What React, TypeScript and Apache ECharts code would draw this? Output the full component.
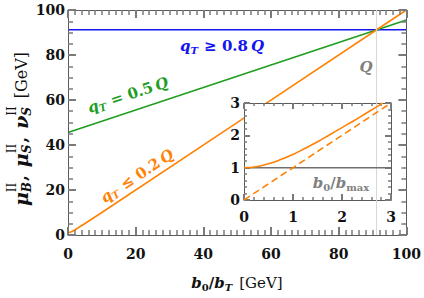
import React, { useEffect, useRef } from "react";
import * as echarts from "echarts";

// ---- data ----
const mainXTicks = [0, 20, 40, 60, 80, 100];
const mainYTicks = [0, 20, 40, 60, 80, 100];
const insetTicks = [0, 1, 2, 3];

const blueX = [0, 100];
const blueY = [91.2, 91.2];
const greenX = [0, 100];
const greenY = [45.6, 95.6];
const orangeX = [0, 1, 2, 3, 5, 10, 100];
const orangeY = [1, 1.4, 2.2, 3.2, 5.1, 10, 100];
const qLineX = [91.19, 91.19];
const qLineY = [0, 100];

const insetSolidX = [0, 0.25, 0.5, 0.75, 1, 1.25, 1.5, 1.75, 2, 2.25, 2.5, 2.75, 2.83];
const insetSolidY = [1, 1.03, 1.12, 1.25, 1.41, 1.6, 1.8, 2.02, 2.24, 2.46, 2.69, 2.92, 3.0];
const insetDashX = [0, 3];
const insetDashY = [0, 3];
const insetGrayX = [0, 3];
const insetGrayY = [1, 1];

const BLUE = "#1414f0";
const GREEN = "#1e9e1e";
const ORANGE = "#ff8205";
const GRAY = "#808080";
const FRAME = "#5a5a5a";
const TICK = "#7a7a7a";
const FAM = "'DejaVu Serif', serif";

const zip = (xs: number[], ys: number[]) => xs.map((x, i) => [x, ys[i]]);

type Piece = { t: string; s?: number; it?: boolean; b?: boolean; dy?: number; stack?: boolean; gap?: number };

let measureCtx: CanvasRenderingContext2D | null = null;
function textW(t: string, s: number, it: boolean, b: boolean) {
  if (!measureCtx) measureCtx = document.createElement("canvas").getContext("2d");
  measureCtx!.font = `${it ? "italic " : ""}${b ? "bold " : ""}${s}px 'DejaVu Serif'`;
  return measureCtx!.measureText(t).width;
}

function mathLabel(pieces: Piece[], cx: number, cy: number, rotation: number, color: string, base = 15) {
  const items: any[] = [];
  let cur = 0;
  let lastX = 0;
  for (const p of pieces) {
    const s = p.s ?? base;
    const it = !!p.it;
    const b = p.b !== false;
    const w = textW(p.t, s, it, b);
    let x: number;
    if (p.stack) {
      x = lastX;
      cur = Math.max(cur, lastX + w);
    } else {
      cur += p.gap ?? 0;
      x = cur;
      cur += w;
    }
    lastX = x;
    items.push({ p, x, s, it, b });
  }
  const total = cur;
  return {
    type: "group",
    x: cx,
    y: cy,
    rotation,
    z: 20,
    children: items.map(({ p, x, s, it, b }) => ({
      type: "text",
      x: x - total / 2,
      y: p.dy ?? 0,
      z: 20,
      style: {
        text: p.t,
        fontSize: s,
        fontFamily: FAM,
        fontWeight: b ? "bold" : "normal",
        fontStyle: it ? "italic" : "normal",
        fill: color,
        align: "left",
        verticalAlign: "middle",
      },
    })),
  };
}

function axisCommon(ticks: number[], minorSplit: number, tickLen: number, minorLen: number, labels: boolean, margin: number) {
  return {
    type: "value",
    min: ticks[0],
    max: ticks[ticks.length - 1],
    interval: ticks[1] - ticks[0],
    axisLine: { show: true, onZero: false, lineStyle: { color: FRAME, width: 1 } },
    axisTick: { show: true, inside: true, length: tickLen, lineStyle: { color: TICK, width: 2 } },
    minorTick: { show: true, splitNumber: minorSplit, length: minorLen, lineStyle: { color: TICK, width: 1.5 } },
    splitLine: { show: false },
    axisLabel: labels
      ? { show: true, margin, fontSize: 14, fontWeight: "bold", fontFamily: FAM, color: "#111" }
      : { show: false },
  };
}

export default function App() {
  const ref = useRef<HTMLDivElement>(null);
  useEffect(() => {
    document.body.style.margin = "0";
    const chart = echarts.init(ref.current!, null, { renderer: "svg" });
    const option: any = {
      animation: false,
      grid: [
        { left: 68, top: 10, right: 15, bottom: 63, show: false },
        { left: 244, top: 103, right: 33, bottom: 98, show: true, backgroundColor: "#fff", borderWidth: 0, z: -1 },
      ],
      xAxis: [
        { ...axisCommon(mainXTicks, 10, 8, 5, true, 12), gridIndex: 0, position: "bottom" },
        { ...axisCommon(mainXTicks, 10, 8, 5, false, 0), gridIndex: 0, position: "top" },
        { ...axisCommon(insetTicks, 5, 6, 3, true, 10), gridIndex: 1, position: "bottom" },
        { ...axisCommon(insetTicks, 5, 6, 3, false, 0), gridIndex: 1, position: "top" },
      ],
      yAxis: [
        { ...axisCommon(mainYTicks, 4, 8, 5, true, 3), gridIndex: 0, position: "left" },
        { ...axisCommon(mainYTicks, 4, 8, 5, false, 0), gridIndex: 0, position: "right" },
        { ...axisCommon(insetTicks, 5, 6, 3, true, 4), gridIndex: 1, position: "left" },
        { ...axisCommon(insetTicks, 5, 6, 3, false, 0), gridIndex: 1, position: "right" },
      ],
      series: [
        { type: "line", xAxisIndex: 0, yAxisIndex: 0, data: zip(blueX, blueY), symbol: "none", z: -2, lineStyle: { color: BLUE, width: 1.6 } },
        { type: "line", xAxisIndex: 0, yAxisIndex: 0, data: zip(greenX, greenY), symbol: "none", z: -2, lineStyle: { color: GREEN, width: 1.6 } },
        { type: "line", xAxisIndex: 0, yAxisIndex: 0, data: zip(orangeX, orangeY), symbol: "none", smooth: 0.3, z: -2, lineStyle: { color: ORANGE, width: 1.6 } },
        { type: "line", xAxisIndex: 0, yAxisIndex: 0, data: zip(qLineX, qLineY), symbol: "none", z: 1, lineStyle: { color: "#d6d6d6", width: 1 } },
        { type: "line", xAxisIndex: 2, yAxisIndex: 2, data: zip(insetGrayX, insetGrayY), symbol: "none", z: 2, lineStyle: { color: "#707070", width: 1.5 } },
        { type: "line", xAxisIndex: 2, yAxisIndex: 2, data: zip(insetDashX, insetDashY), symbol: "none", z: 2, lineStyle: { color: ORANGE, width: 1.6, type: [7, 4] } },
        { type: "line", xAxisIndex: 2, yAxisIndex: 2, data: zip(insetSolidX, insetSolidY), symbol: "none", smooth: true, z: 2, lineStyle: { color: ORANGE, width: 1.6 } },
      ],
      graphic: [
        mathLabel(
          [{ t: "q", it: true }, { t: "T", it: true, s: 10, dy: 4 }, { t: " ≥ 0.8", gap: 1 }, { t: "Q", it: true, gap: 3 }],
          222, 46, 0, BLUE
        ),
        mathLabel(
          [{ t: "q", it: true }, { t: "T", it: true, s: 10, dy: 4 }, { t: " = 0.5", gap: 1 }, { t: "Q", it: true, gap: 3 }],
          128, 95, 0.32, GREEN
        ),
        mathLabel(
          [{ t: "q", it: true }, { t: "T", it: true, s: 10, dy: 4 }, { t: " ≤ 0.2", gap: 1 }, { t: "Q", it: true, gap: 3 }],
          137, 176, 0.583, ORANGE
        ),
        mathLabel([{ t: "Q", it: true }], 366, 67, 0, GRAY),
        mathLabel(
          [{ t: "b", it: true }, { t: "0", s: 10, dy: 4 }, { t: "/" }, { t: "b", it: true }, { t: "max", s: 10, dy: 4 }],
          341, 183, 0, GRAY
        ),
        mathLabel(
          [
            { t: "b", it: true }, { t: "0", s: 10, dy: 4 }, { t: "/" }, { t: "b", it: true }, { t: "T", it: true, s: 10, dy: 4 },
            { t: "[GeV]", b: false, gap: 7 },
          ],
          237, 283, 0, "#111"
        ),
        mathLabel(
          [
            { t: "μ", it: true, s: 19 }, { t: "B", it: true, s: 12, dy: 6 }, { t: "II", b: false, s: 12, dy: -9, stack: true },
            { t: ",", s: 17, gap: 1 },
            { t: "μ", it: true, s: 19, gap: 8 }, { t: "S", it: true, s: 12, dy: 6 }, { t: "II", b: false, s: 12, dy: -9, stack: true },
            { t: ",", s: 17, gap: 1 },
            { t: "ν", it: true, s: 19, gap: 8 }, { t: "S", it: true, s: 12, dy: 6 }, { t: "II", b: false, s: 12, dy: -9, stack: true },
            { t: "[GeV]", b: false, s: 16, gap: 8 },
          ],
          21, 129, Math.PI / 2, "#111"
        ),
      ],
    };
    chart.setOption(option);
    return () => chart.dispose();
  }, []);
  return <div ref={ref} style={{ position: "absolute", left: 0, top: 0, width: 424, height: 298, background: "#fff" }} />;
}
